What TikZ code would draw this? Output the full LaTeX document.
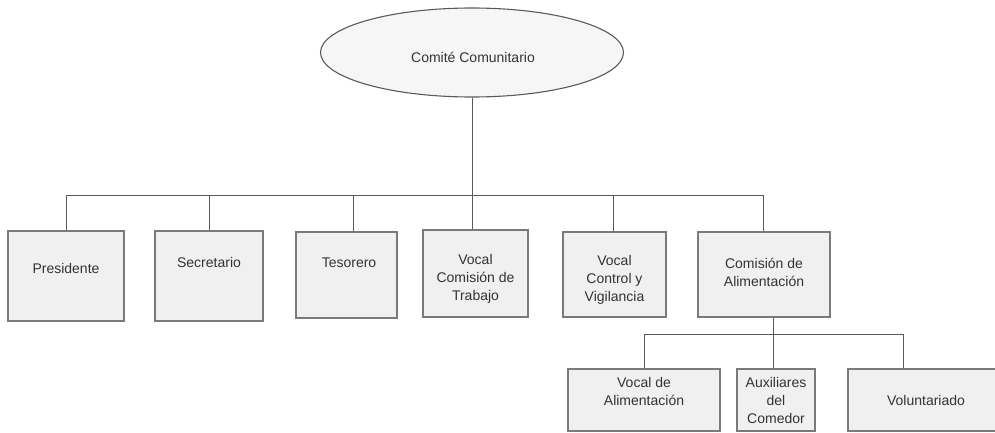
\documentclass[tikz,border=0pt]{standalone}
\usepackage{fontspec}
\setmainfont{Liberation Sans}
\usetikzlibrary{shapes.geometric}
\definecolor{boxfill}{HTML}{F0F0F0}
\definecolor{ellfill}{HTML}{F6F6F6}
\definecolor{boxline}{HTML}{7A7A7A}
\definecolor{conn}{HTML}{5A5A5A}
\definecolor{txtc}{HTML}{333333}
\begin{document}
\begin{tikzpicture}[x=1pt,y=-1pt,
  box/.style={draw=boxline, fill=boxfill, line width=1.3pt, inner sep=0pt, rectangle},
  lbl/.style={text=txtc, align=center, inner sep=0pt, font=\fontsize{14}{18}\selectfont},
  conline/.style={draw=conn, line width=1pt}]
\useasboundingbox (0,0) rectangle (995,433);
\clip (0,0) rectangle (995,433);
% root
\node[ellipse, draw=conn, line width=1.1pt, fill=ellfill, minimum width=303pt, minimum height=89pt, inner sep=0pt] (root) at (472,52.5) {};
\node[lbl] (rootl) at (473,57) {Comité Comunitario};
% top row boxes
\node[box, minimum width=116pt, minimum height=90pt] (pres) at (66,276) {};
\node[box, minimum width=108pt, minimum height=90pt] (sec) at (209,276) {};
\node[box, minimum width=101pt, minimum height=86pt] (tes) at (346.5,275) {};
\node[box, minimum width=105pt, minimum height=87pt] (vct) at (475.5,273.5) {};
\node[box, minimum width=103pt, minimum height=85pt] (vcv) at (614.5,274.5) {};
\node[box, minimum width=132pt, minimum height=85pt] (cal) at (764,274.5) {};
\node[lbl] (presl) at (66,268) {Presidente};
\node[lbl] (secl) at (209,262) {Secretario};
\node[lbl] (tesl) at (349,263) {Tesorero};
\node[lbl] (vctl) at (475.5,279) {Vocal\\Comisión de\\Trabajo};
\node[lbl] (vcvl) at (614.5,280) {Vocal\\Control y\\Vigilancia};
\node[lbl] (call) at (764,272) {Comisión de\\Alimentación};
% bottom row boxes
\node[box, minimum width=152pt, minimum height=62pt] (val) at (644,400) {};
\node[box, minimum width=78pt, minimum height=62pt] (aux) at (776,400) {};
\node[box, minimum width=160pt, minimum height=62pt] (vol) at (928,400) {};
\node[lbl] (vall) at (644,391) {Vocal de\\Alimentación};
\node[lbl] (auxl) at (776,400) {Auxiliares\\del\\Comedor};
\node[lbl] (voll) at (926,400) {Voluntariado};
% connectors
\coordinate (bar) at (0,195);
\coordinate (bar2) at (0,334);
\draw[conline] (root.south) -- (root.south |- bar);
\draw[conline] (pres.north) |- ([xshift=-1pt]cal.north |- bar) -- ([xshift=-1pt]cal.north);
\draw[conline] (sec.north) -- (sec.north |- bar);
\draw[conline] ([xshift=6.5pt]tes.north) -- ([xshift=6.5pt]tes.north |- bar);
\draw[conline] ([xshift=-3.5pt]vct.north) -- ([xshift=-3.5pt]vct.north |- bar);
\draw[conline] ([xshift=-1.5pt]vcv.north) -- ([xshift=-1.5pt]vcv.north |- bar);
\draw[conline] ([xshift=9pt]cal.south) -- ([xshift=9pt]cal.south |- bar2);
\draw[conline] (val.north) |- ([xshift=-25pt]vol.north |- bar2) -- ([xshift=-25pt]vol.north);
\draw[conline] ([xshift=-3pt]aux.north) -- ([xshift=-3pt]aux.north |- bar2);
\end{tikzpicture}
\end{document}
